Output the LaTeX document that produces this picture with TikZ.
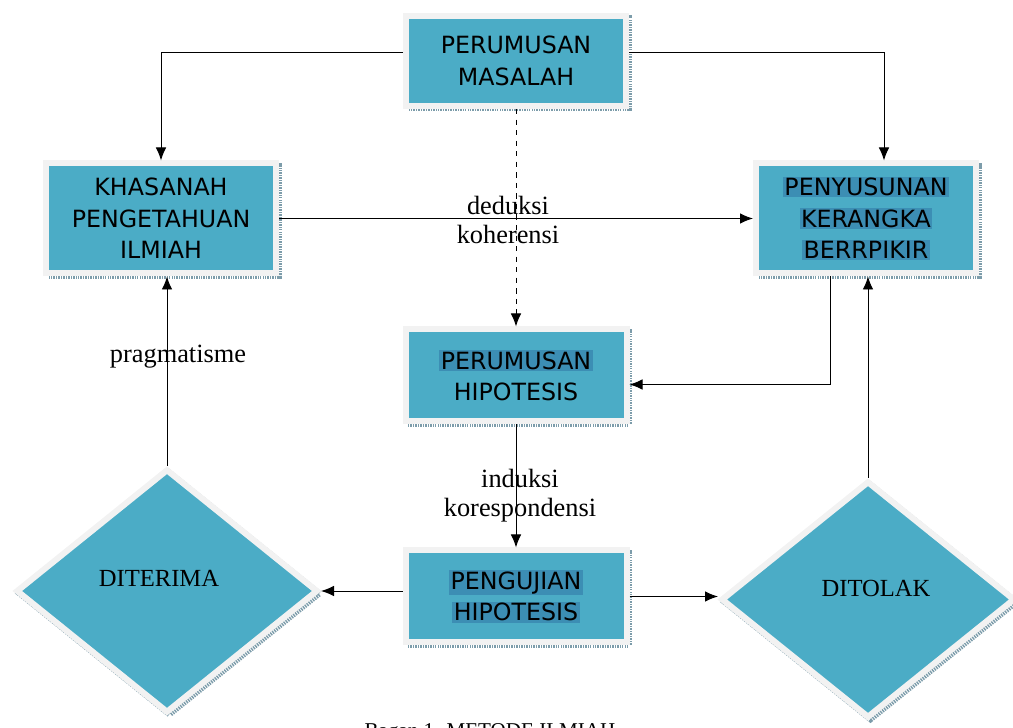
\documentclass[tikz,border=0pt]{standalone}
\usepackage{fontspec}
\setmainfont{Liberation Serif}
\newfontfamily\boxfont{DejaVu Sans}
\usetikzlibrary{shapes.geometric,arrows.meta}
\definecolor{boxteal}{HTML}{4BACC6}
\definecolor{framegray}{HTML}{F2F2F2}
\definecolor{shadeteal}{HTML}{7C9CAA}
\definecolor{hlblue}{HTML}{3C8EB4}
\newcommand{\hl}[1]{{\setlength{\fboxsep}{0.8pt}\colorbox{hlblue}{#1}}}

\begin{document}
\begin{tikzpicture}[
  kotak/.style={draw=framegray, line width=0.12cm, fill=boxteal, align=center,
    preaction={draw=shadeteal, line width=0.12cm, dash pattern=on 0.8pt off 0.6pt,
      transform canvas={shift={(0.05cm,-0.05cm)}}},
    font=\boxfont\fontsize{13.5}{18}\selectfont},
  belah/.style={kotak, diamond, inner sep=0pt},
  ket/.style={font=\fontsize{15}{16.5}\selectfont, align=center},
  panah/.style={>={Latex[length=2.6mm,width=2.1mm]},->,line width=0.55pt}
]
\useasboundingbox (0,0) rectangle (20.26,-14.56);

% kotak-kotak
\node[kotak, minimum width=4.4cm, minimum height=1.8cm] (masalah) at (10.32,-1.22) {PERUMUSAN\\MASALAH};
\node[kotak, minimum width=4.6cm, minimum height=2.2cm] (khasanah) at (3.22,-4.37) {KHASANAH\\PENGETAHUAN\\ILMIAH};
\node[kotak, minimum width=4.4cm, minimum height=2.2cm] (kerangka) at (17.32,-4.37) {\hl{PENYUSUNAN}\\\hl{KERANGKA}\\\hl{BERRPIKIR}};
\node[kotak, minimum width=4.42cm, minimum height=1.84cm] (hipotesis) at (10.32,-7.51) {\hl{PERUMUSAN}\\HIPOTESIS};
\node[kotak, minimum width=4.42cm, minimum height=1.84cm] (pengujian) at (10.32,-11.93) {\hl{PENGUJIAN}\\\hl{HIPOTESIS}};

% belah ketupat
\node[belah, minimum width=6.04cm, minimum height=4.88cm,
  label={[font=\fontsize{14}{16}\selectfont, xshift=-0.16cm, yshift=0.26cm]center:DITERIMA}] (diterima) at (3.34,-11.82) {};
\node[belah, minimum width=5.88cm, minimum height=4.74cm,
  label={[font=\fontsize{14}{16}\selectfont, xshift=0.16cm, yshift=0.22cm]center:DITOLAK}] (ditolak) at (17.36,-11.99) {};

% panah
\draw[panah] (masalah.west |- 0,-1.04) -| (khasanah.north);
\draw[panah] (masalah.east |- 0,-1.04) -| ([xshift=0.36cm]kerangka.north);
\draw[panah, dashed] (masalah) -- (hipotesis);
\draw[panah] (khasanah) -- (kerangka);
\draw[panah] ([xshift=-0.72cm]kerangka.south) |- ([yshift=-0.18cm]hipotesis.east);
\draw[panah] (ditolak.north) -- (ditolak.north |- kerangka.south);
\draw[panah] (hipotesis) -- (pengujian);
\draw[panah] (pengujian.west |- diterima.east) -- (diterima.east);
\draw[panah] (pengujian.east) -- (pengujian.east -| ditolak.west);
\draw[panah] (diterima.north) -- (diterima.north |- khasanah.south);

% keterangan
\node[ket] (deduksi) at (10.16,-4.40) {deduksi\\koherensi};
\node[ket] (induksi) at (10.4,-9.91) {induksi\\korespondensi};
\node[ket] (pragma) at (3.56,-7.14) {pragmatisme};
\node[anchor=base, font=\fontsize{12}{14}\selectfont] (judul) at (9.8,-14.74) {Bagan 1. METODE ILMIAH};

\end{tikzpicture}
\end{document}
